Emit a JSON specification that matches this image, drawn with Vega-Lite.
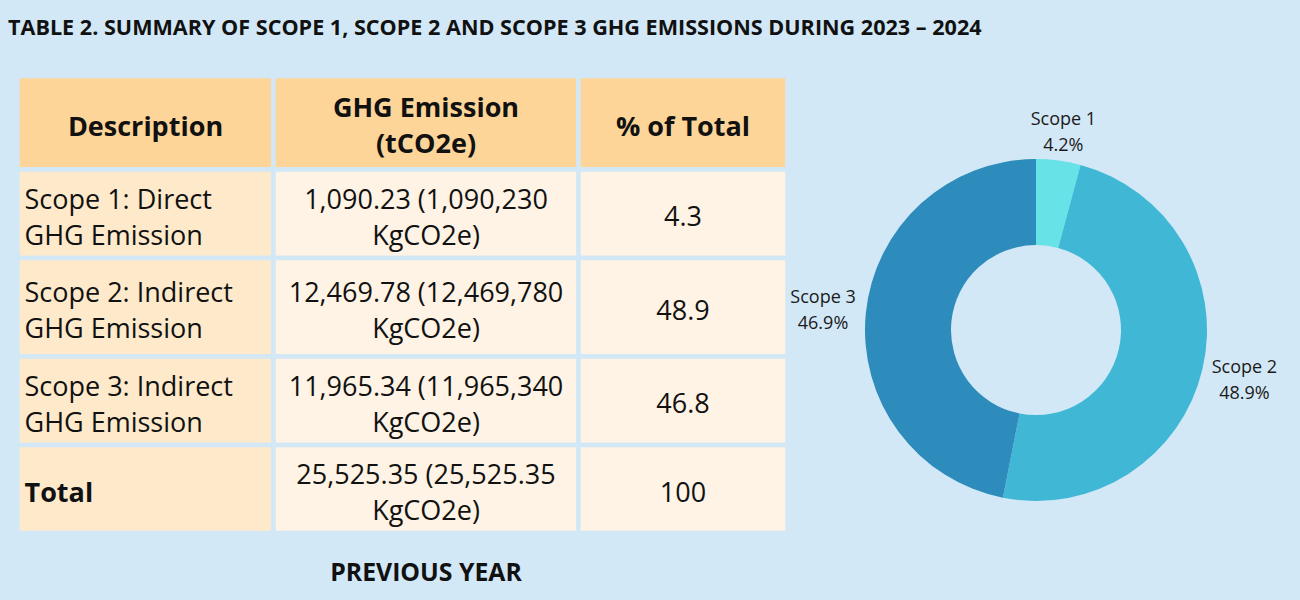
{
  "$schema": "https://vega.github.io/schema/vega-lite/v6.json",
  "background": "#d2e8f6",
  "padding": {"left": 0, "top": 18, "right": 24, "bottom": 0},
  "autosize": {"type": "pad"},
  "spacing": 0,
  "resolve": {"scale": {"color": "independent"}},
  "title": {
    "text": "TABLE 2. SUMMARY OF SCOPE 1, SCOPE 2 AND SCOPE 3 GHG EMISSIONS DURING 2023 – 2024",
    "anchor": "start",
    "dx": 8,
    "font": "Open Sans",
    "fontSize": 21.6,
    "fontWeight": "bold",
    "color": "#111111",
    "offset": 4
  },
  "config": {"view": {"stroke": null}},
  "datasets": {
    "cells": [
      {"row": 0, "col": 0, "kind": "header", "text": "Description"},
      {"row": 0, "col": 1, "kind": "header", "text": ["GHG Emission", "(tCO2e)"]},
      {"row": 0, "col": 2, "kind": "header", "text": "% of Total"},
      {"row": 1, "col": 0, "kind": "label", "text": ["Scope 1: Direct", "GHG Emission"]},
      {"row": 1, "col": 1, "kind": "value", "text": ["1,090.23 (1,090,230", "KgCO2e)"]},
      {"row": 1, "col": 2, "kind": "value", "text": "4.3"},
      {"row": 2, "col": 0, "kind": "label", "text": ["Scope 2: Indirect", "GHG Emission"]},
      {"row": 2, "col": 1, "kind": "value", "text": ["12,469.78 (12,469,780", "KgCO2e)"]},
      {"row": 2, "col": 2, "kind": "value", "text": "48.9"},
      {"row": 3, "col": 0, "kind": "label", "text": ["Scope 3: Indirect", "GHG Emission"]},
      {"row": 3, "col": 1, "kind": "value", "text": ["11,965.34 (11,965,340", "KgCO2e)"]},
      {"row": 3, "col": 2, "kind": "value", "text": "46.8"},
      {"row": 4, "col": 0, "kind": "total", "text": "Total"},
      {"row": 4, "col": 1, "kind": "value", "text": ["25,525.35 (25,525.35", "KgCO2e)"]},
      {"row": 4, "col": 2, "kind": "value", "text": "100"},
      {"row": 5, "col": 1, "kind": "caption", "text": "PREVIOUS YEAR"}
    ],
    "donut": [
      {"scope": "Scope 1", "value": 4.2, "label": ["Scope 1", "4.2%"]},
      {"scope": "Scope 2", "value": 48.9, "label": ["Scope 2", "48.9%"]},
      {"scope": "Scope 3", "value": 46.9, "label": ["Scope 3", "46.9%"]}
    ]
  },
  "hconcat": [
    {
      "width": 788.5,
      "height": 538,
      "data": {"name": "cells"},
      "transform": [
        {"calculate": "datum.col + 1", "as": "col_end"},
        {"calculate": "datum.row + 1", "as": "row_end"},
        {"calculate": "datum.col + 0.5", "as": "col_mid"},
        {"calculate": "datum.row + 0.5", "as": "row_mid"}
      ],
      "layer": [
        {
          "transform": [{"filter": "datum.kind != 'caption'"}],
          "mark": {"type": "rect", "stroke": "#d2e8f6", "strokeWidth": 4.5},
          "encoding": {
            "x": {"field": "col", "type": "quantitative", "axis": null, "scale": {"domain": [0, 1, 2, 3], "range": [17.5, 273.5, 578.5, 787.5], "nice": false, "zero": false}},
            "x2": {"field": "col_end"},
            "y": {"field": "row", "type": "quantitative", "axis": null, "scale": {"domain": [0, 1, 2, 3, 4, 5, 6], "range": [16, 109.5, 198, 296.5, 385, 473, 547], "nice": false, "zero": false}},
            "y2": {"field": "row_end"},
            "color": {"field": "kind", "type": "nominal", "legend": null, "scale": {"domain": ["header", "label", "total", "value"], "range": ["#fed598", "#feeacb", "#feeacb", "#fef3e4"]}}
          }
        },
        {
          "transform": [{"filter": "datum.kind == 'header' && !isArray(datum.text)"}],
          "mark": {"type": "text", "font": "Open Sans", "fontSize": 27, "fontWeight": "bold", "align": "center", "baseline": "middle", "dy": 5, "color": "#111111"},
          "encoding": {
            "x": {"field": "col_mid", "type": "quantitative", "axis": null, "scale": {"domain": [0, 1, 2, 3], "range": [17.5, 273.5, 578.5, 787.5], "nice": false, "zero": false}},
            "y": {"field": "row_mid", "type": "quantitative", "axis": null, "scale": {"domain": [0, 1, 2, 3, 4, 5, 6], "range": [16, 109.5, 198, 296.5, 385, 473, 547], "nice": false, "zero": false}},
            "text": {"field": "text"}
          }
        },
        {
          "transform": [{"filter": "datum.kind == 'header' && isArray(datum.text)"}],
          "mark": {"type": "text", "font": "Open Sans", "fontSize": 27, "fontWeight": "bold", "lineHeight": 36, "align": "center", "baseline": "middle", "dy": -13.5, "color": "#111111"},
          "encoding": {
            "x": {"field": "col_mid", "type": "quantitative", "axis": null, "scale": {"domain": [0, 1, 2, 3], "range": [17.5, 273.5, 578.5, 787.5], "nice": false, "zero": false}},
            "y": {"field": "row_mid", "type": "quantitative", "axis": null, "scale": {"domain": [0, 1, 2, 3, 4, 5, 6], "range": [16, 109.5, 198, 296.5, 385, 473, 547], "nice": false, "zero": false}},
            "text": {"field": "text"}
          }
        },
        {
          "transform": [{"filter": "datum.kind == 'label'"}],
          "mark": {"type": "text", "font": "Open Sans", "fontSize": 27, "lineHeight": 36, "align": "left", "baseline": "middle", "dx": 7, "dy": -13, "color": "#111111"},
          "encoding": {
            "x": {"field": "col", "type": "quantitative", "axis": null, "scale": {"domain": [0, 1, 2, 3], "range": [17.5, 273.5, 578.5, 787.5], "nice": false, "zero": false}},
            "y": {"field": "row_mid", "type": "quantitative", "axis": null, "scale": {"domain": [0, 1, 2, 3, 4, 5, 6], "range": [16, 109.5, 198, 296.5, 385, 473, 547], "nice": false, "zero": false}},
            "text": {"field": "text"}
          }
        },
        {
          "transform": [{"filter": "datum.kind == 'total'"}],
          "mark": {"type": "text", "font": "Open Sans", "fontSize": 27, "fontWeight": "bold", "align": "left", "baseline": "middle", "dx": 7, "dy": 4.5, "color": "#111111"},
          "encoding": {
            "x": {"field": "col", "type": "quantitative", "axis": null, "scale": {"domain": [0, 1, 2, 3], "range": [17.5, 273.5, 578.5, 787.5], "nice": false, "zero": false}},
            "y": {"field": "row_mid", "type": "quantitative", "axis": null, "scale": {"domain": [0, 1, 2, 3, 4, 5, 6], "range": [16, 109.5, 198, 296.5, 385, 473, 547], "nice": false, "zero": false}},
            "text": {"field": "text"}
          }
        },
        {
          "transform": [{"filter": "datum.kind == 'value' && isArray(datum.text)"}],
          "mark": {"type": "text", "font": "Open Sans", "fontSize": 27, "lineHeight": 36, "align": "center", "baseline": "middle", "dy": -13, "color": "#111111"},
          "encoding": {
            "x": {"field": "col_mid", "type": "quantitative", "axis": null, "scale": {"domain": [0, 1, 2, 3], "range": [17.5, 273.5, 578.5, 787.5], "nice": false, "zero": false}},
            "y": {"field": "row_mid", "type": "quantitative", "axis": null, "scale": {"domain": [0, 1, 2, 3, 4, 5, 6], "range": [16, 109.5, 198, 296.5, 385, 473, 547], "nice": false, "zero": false}},
            "text": {"field": "text"}
          }
        },
        {
          "transform": [{"filter": "datum.kind == 'value' && !isArray(datum.text)"}],
          "mark": {"type": "text", "font": "Open Sans", "fontSize": 27, "align": "center", "baseline": "middle", "dy": 4.5, "color": "#111111"},
          "encoding": {
            "x": {"field": "col_mid", "type": "quantitative", "axis": null, "scale": {"domain": [0, 1, 2, 3], "range": [17.5, 273.5, 578.5, 787.5], "nice": false, "zero": false}},
            "y": {"field": "row_mid", "type": "quantitative", "axis": null, "scale": {"domain": [0, 1, 2, 3, 4, 5, 6], "range": [16, 109.5, 198, 296.5, 385, 473, 547], "nice": false, "zero": false}},
            "text": {"field": "text"}
          }
        },
        {
          "transform": [{"filter": "datum.kind == 'caption'"}],
          "mark": {"type": "text", "font": "Open Sans", "fontSize": 24.8, "fontWeight": "bold", "align": "center", "baseline": "middle", "dy": 4, "color": "#111111"},
          "encoding": {
            "x": {"field": "col_mid", "type": "quantitative", "axis": null, "scale": {"domain": [0, 1, 2, 3], "range": [17.5, 273.5, 578.5, 787.5], "nice": false, "zero": false}},
            "y": {"field": "row_mid", "type": "quantitative", "axis": null, "scale": {"domain": [0, 1, 2, 3, 4, 5, 6], "range": [16, 109.5, 198, 296.5, 385, 473, 547], "nice": false, "zero": false}},
            "text": {"field": "text"}
          }
        }
      ]
    },
    {
      "width": 470,
      "height": 540,
      "title": {"text": " ", "fontSize": 10, "offset": 6},
      "data": {"name": "donut"},
      "layer": [
        {
          "mark": {"type": "arc", "innerRadius": 85, "outerRadius": 171},
          "encoding": {
            "theta": {"field": "value", "type": "quantitative", "stack": true},
            "color": {"field": "scope", "type": "nominal", "legend": null, "scale": {"domain": ["Scope 1", "Scope 2", "Scope 3"], "range": ["#67e3e7", "#41b7d6", "#2d8cbb"]}}
          }
        },
        {
          "mark": {"type": "text", "radius": 208, "font": "Open Sans", "fontSize": 18, "lineHeight": 26, "align": "center", "baseline": "middle", "dy": -4, "color": "#1a1a1a"},
          "encoding": {
            "theta": {"field": "value", "type": "quantitative", "stack": true},
            "detail": {"field": "scope", "type": "nominal"},
            "text": {"condition": {"test": "datum.scope == 'Scope 1'", "field": "label"}, "value": ""}
          }
        },
        {
          "mark": {"type": "text", "radius": 214, "font": "Open Sans", "fontSize": 18, "lineHeight": 26, "align": "center", "baseline": "middle", "dy": -11, "color": "#1a1a1a"},
          "encoding": {
            "theta": {"field": "value", "type": "quantitative", "stack": true},
            "detail": {"field": "scope", "type": "nominal"},
            "text": {"condition": {"test": "datum.scope != 'Scope 1'", "field": "label"}, "value": ""}
          }
        }
      ]
    }
  ]
}
